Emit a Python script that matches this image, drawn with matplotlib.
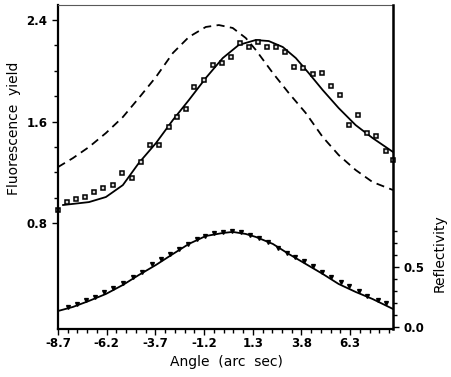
import numpy as np
import matplotlib
matplotlib.use('Agg')
import matplotlib.pyplot as plt
from matplotlib.ticker import FixedLocator

### data
# fluorescence yield, measured (squares)
fl_x = [-8.70, -8.24, -7.78, -7.32, -6.85, -6.39, -5.88, -5.42, -4.91, -4.45,
        -3.98, -3.52, -3.02, -2.60, -2.14, -1.73, -1.22, -0.75, -0.29, 0.17,
        0.63, 1.09, 1.55, 2.02, 2.48, 2.94, 3.40, 3.86, 4.37, 4.83,
        5.30, 5.76, 6.22, 6.68, 7.19, 7.65, 8.12, 8.50]
fl_y = [0.902, 0.965, 0.989, 1.005, 1.044, 1.076, 1.099, 1.194, 1.155, 1.281,
        1.415, 1.415, 1.556, 1.635, 1.698, 1.872, 1.927, 2.045, 2.061, 2.108,
        2.218, 2.187, 2.226, 2.187, 2.187, 2.148, 2.029, 2.021, 1.974, 1.982,
        1.880, 1.809, 1.572, 1.651, 1.509, 1.486, 1.367, 1.296]

# fluorescence yield, fitted (solid)
fit_x = [-8.44, -7.11, -6.24, -5.37, -4.55, -3.67, -2.80, -1.98, -1.11, -0.24,
         0.58, 1.45, 2.12, 2.84, 3.51, 4.17, 4.89, 5.71, 6.58, 7.45, 8.50]
fit_y = [0.942, 0.965, 1.005, 1.099, 1.273, 1.430, 1.612, 1.769, 1.943, 2.100,
         2.203, 2.242, 2.234, 2.187, 2.100, 1.982, 1.848, 1.706, 1.572, 1.470, 1.360]

# fluorescence yield, unshifted (dashed)
dash_x = [-8.70, -7.93, -7.11, -6.24, -5.37, -4.55, -3.67, -2.80, -1.98, -1.11,
          -0.44, 0.27, 0.94, 1.46, 2.33, 3.15, 4.02, 4.89, 5.71, 6.58, 7.45, 8.50]
dash_y = [1.241, 1.312, 1.399, 1.509, 1.635, 1.785, 1.951, 2.140, 2.266, 2.345,
          2.360, 2.337, 2.258, 2.163, 1.982, 1.824, 1.667, 1.478, 1.336, 1.218, 1.123, 1.060]

# reflectivity, measured
rf_x = [-8.19, -7.73, -7.26, -6.80, -6.34, -5.88, -5.37, -4.86, -4.40, -3.88,
        -3.42, -2.96, -2.50, -2.03, -1.57, -1.16, -0.70, -0.24, 0.22, 0.68,
        1.15, 1.61, 2.07, 2.58, 3.04, 3.45, 3.92, 4.38, 4.84, 5.30,
        5.81, 6.22, 6.74, 7.19, 7.71, 8.12]
rf_y = [0.165, 0.190, 0.222, 0.250, 0.288, 0.328, 0.370, 0.420, 0.462, 0.522,
        0.565, 0.612, 0.652, 0.692, 0.732, 0.760, 0.785, 0.795, 0.797, 0.788,
        0.768, 0.742, 0.705, 0.662, 0.620, 0.585, 0.548, 0.505, 0.462, 0.420,
        0.375, 0.340, 0.300, 0.262, 0.228, 0.200]

# reflectivity, calculated (solid)
rc_x = [-8.70, -7.93, -7.11, -6.24, -5.37, -4.55, -3.67, -2.80, -1.98, -1.11,
        -0.24, 0.27, 0.94, 1.46, 2.33, 3.15, 4.02, 4.89, 5.71, 6.58, 7.45, 8.50]
rc_y = [0.133, 0.167, 0.217, 0.275, 0.350, 0.433, 0.517, 0.608, 0.692, 0.758,
        0.783, 0.792, 0.775, 0.750, 0.692, 0.608, 0.525, 0.442, 0.358, 0.292, 0.233, 0.150]

x_major = [-8.7, -6.2, -3.7, -1.2, 1.3, 3.8, 6.3]

fig = plt.figure(figsize=(4.52, 3.77), dpi=100)
ax = fig.add_axes([58/452, 48/377, 335/452, 324/377])
ax2 = ax.twinx()

ax.plot(dash_x, dash_y, color='k', lw=1.3, ls=(0, (4.5, 3)))
ax.plot(fit_x, fit_y, color='k', lw=1.3)
ax.plot(fl_x, fl_y, ls='none', marker='s', ms=3.3, mfc='0.85', mec='k', mew=1.1,
        clip_on=False)

ax2.plot(rc_x, rc_y, color='k', lw=1.3)
ax2.plot(rf_x, rf_y, ls='none', marker='v', ms=2.8, color='k')

ax.set_xlim(-8.7, 8.5)
ax.set_ylim(-0.035, 2.518)
ax2.set_ylim(-0.017, 2.683)

ax.xaxis.set_major_locator(FixedLocator(x_major))
ax.xaxis.set_minor_locator(FixedLocator(np.arange(-8.7, 8.5, 0.5)))
ax.set_xticklabels(['%.1f' % v for v in x_major])
ax.yaxis.set_major_locator(FixedLocator([0.8, 1.6, 2.4]))
ax.yaxis.set_minor_locator(FixedLocator(np.arange(0.8, 2.41, 0.2)))
ax2.yaxis.set_major_locator(FixedLocator([0.0, 0.5]))
ax2.yaxis.set_minor_locator(FixedLocator(np.arange(0.0, 0.81, 0.1)))
ax2.set_yticklabels(['0.0', '0.5'])

for a in (ax, ax2):
    a.tick_params(which='both', direction='out', width=1.0, labelsize=8.5)
    a.tick_params(which='major', length=4)
    a.tick_params(which='minor', length=3)
    for lab in a.get_xticklabels() + a.get_yticklabels():
        lab.set_fontweight('bold')
ax.tick_params(axis='x', pad=2)

ax.spines['left'].set_linewidth(1.6)
ax.spines['bottom'].set_linewidth(1.6)
ax2.spines['right'].set_linewidth(1.8)
ax.spines['top'].set_linewidth(0.8)
ax.spines['top'].set_color('0.35')
ax2.spines['top'].set_visible(False)
ax2.spines['left'].set_visible(False)
ax2.spines['bottom'].set_visible(False)

fig.text(226/452, 1 - 362/377, 'Angle  (arc  sec)', ha='center', va='center', fontsize=10)
fig.text(14/452, 1 - 128/377, 'Fluorescence  yield', ha='center', va='center',
         rotation=90, fontsize=10)
fig.text(440/452, 1 - 253/377, 'Reflectivity', ha='center', va='center',
         rotation=90, fontsize=10)

plt.savefig('out.png', dpi=100)
